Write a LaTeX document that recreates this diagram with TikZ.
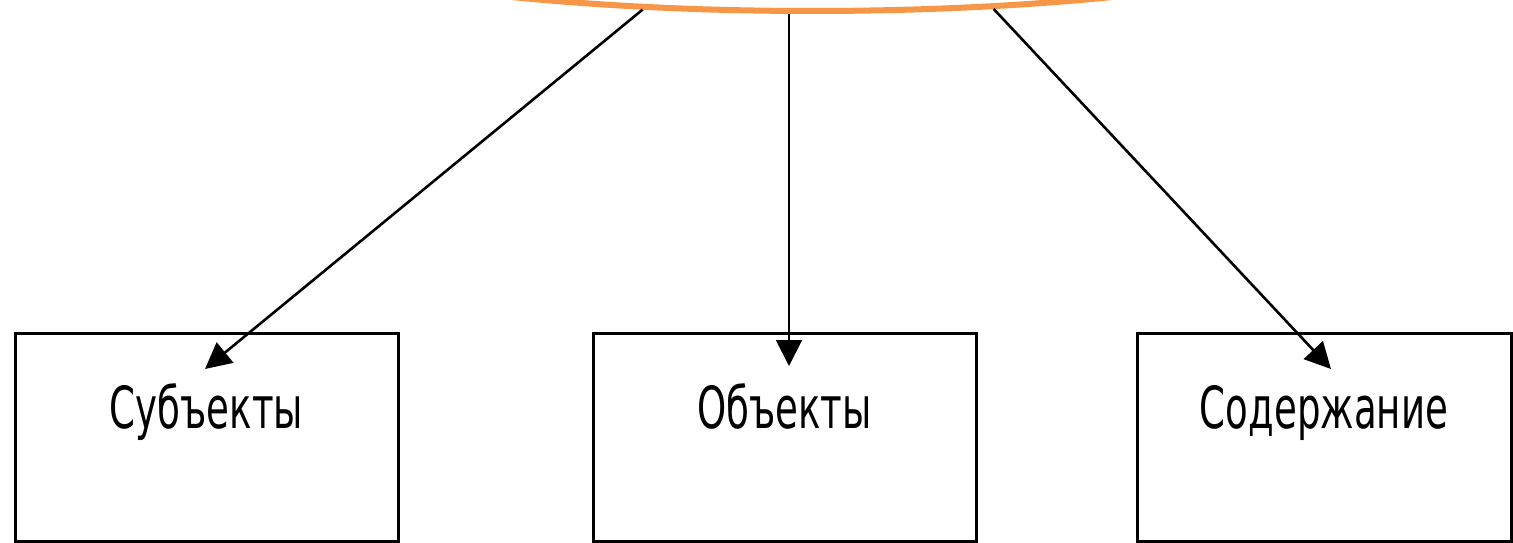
\documentclass[tikz,border=0pt]{standalone}
\usepackage{fontspec}
\setmainfont{DejaVu Sans}[FakeStretch=0.64]
\usetikzlibrary{arrows.meta,shapes.geometric}
\definecolor{ellorange}{HTML}{F79646}
\begin{document}
\begin{tikzpicture}[x=1pt,y=-1pt,
  topic/.style={ellipse,draw=ellorange,line width=6pt,inner sep=0pt,minimum width=1280pt,minimum height=240pt},
  box/.style={rectangle,draw=black,line width=3pt,inner sep=0pt,text height=95pt,text depth=113pt,font=\fontsize{58}{60}\selectfont},
  conn/.style={draw=black,line width=2.6pt,-{Triangle[length=26pt,width=26pt]}}]
\fill[white] (0,0) rectangle (1513,543);
\useasboundingbox (0,0) rectangle (1513,543);
\node[topic] (ell) at (812,-109) {};
\node[box,minimum width=383pt] (subj) at (206.5,437) {Субъекты};
\node[box,minimum width=383pt] (obj) at (784.5,437) {Объекты};
\node[box,minimum width=374pt] (cont) at (1324,437) {Содержание};
\coordinate (tipL) at (205,369);
\coordinate (tipM) at (789,366);
\coordinate (tipR) at (1331,369);
\draw[conn] (ell.215) -- (tipL);
\draw[conn,line width=2pt] (tipM |- ell.south) -- (tipM);
\draw[conn] (ell.327.4) -- (tipR);
\end{tikzpicture}
\end{document}
